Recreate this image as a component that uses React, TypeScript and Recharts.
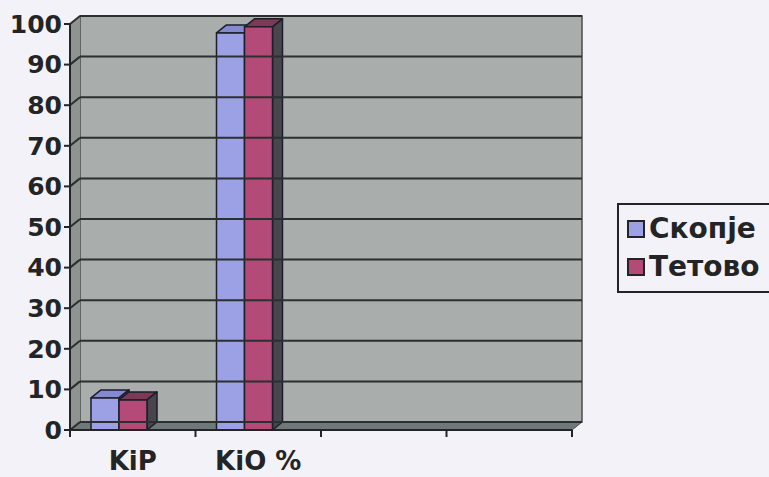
import { BarChart, Bar, XAxis, YAxis, ReferenceArea, ReferenceLine } from 'recharts'

// categories on the x axis (last two are empty slots)
const categories = ['KiP', 'KiO %', '', ' ']
// values per city
const skopje = [7.9, 97.8, null, null]
const tetovo = [7.4, 99.3, null, null]
const yTicks = [0, 10, 20, 30, 40, 50, 60, 70, 80, 90, 100]
const seriesNames = ['Скопје', 'Тетово']

const data = categories.map((cat, i) => ({ cat, skopje: skopje[i], tetovo: tetovo[i] }))

// 3D depth of the fake perspective
const DX = 10
const DY = 8
const SHIFT = -14
const FONT = '"DejaVu Sans", sans-serif'
const INK = '#232425'

const colors = {
  skopje: { front: '#9ca0e4', top: '#8589d0', side: '#55588f' },
  tetovo: { front: '#b34a78', top: '#7d3a57', side: '#46464c' },
}

const makeBar = (c: { front: string; top: string; side: string }) => (props: any) => {
  const { x, y, width: w, height: h } = props
  if (x == null || !h) return <g />
  const bx = x + SHIFT
  return (
    <g stroke="#1d1d2b" strokeWidth={1.5} strokeLinejoin="round">
      <polygon points={`${bx},${y} ${bx + DX},${y - DY} ${bx + w + DX},${y - DY} ${bx + w},${y}`} fill={c.top} />
      <polygon points={`${bx + w},${y} ${bx + w + DX},${y - DY} ${bx + w + DX},${y + h - DY} ${bx + w},${y + h}`} fill={c.side} />
      <rect x={bx} y={y} width={w} height={h} fill={c.front} />
    </g>
  )
}

const Walls = (props: any) => {
  const { x, y, width: w, height: h } = props
  return (
    <g>
      <rect x={x + DX} y={y - DY} width={w} height={h} fill="#a9aeac" stroke="#4a4e4e" strokeWidth={1.5} />
      <polygon points={`${x},${y} ${x + DX},${y - DY} ${x + DX},${y + h - DY} ${x},${y + h}`} fill="#8f9492" />
      <polygon points={`${x},${y + h} ${x + DX},${y + h - DY} ${x + w + DX},${y + h - DY} ${x + w},${y + h}`} fill="#6f7977" stroke="#4a4e4e" strokeWidth={1} />
    </g>
  )
}

const gridLine = (p: any) => (
  <g stroke="#2b2f2f" strokeWidth={2}>
    <line x1={p.x1} y1={p.y1} x2={p.x1 + DX} y2={p.y1 - DY} />
    <line x1={p.x1 + DX} y1={p.y1 - DY} x2={p.x2 + DX} y2={p.y2 - DY} />
  </g>
)

const XTick = (props: any) => {
  const { x, y, payload, index, visibleTicksCount } = props
  const half = payload?.offset ?? 62.75
  const axisY = y - 8
  const last = index === (visibleTicksCount ?? categories.length) - 1
  return (
    <g>
      <line x1={x - half} y1={axisY} x2={x - half} y2={axisY + 7} stroke={INK} strokeWidth={2} />
      {last && <line x1={x + half} y1={axisY} x2={x + half} y2={axisY + 7} stroke={INK} strokeWidth={2} />}
      <text x={x} y={axisY + 40} textAnchor="middle" fontFamily={FONT} fontWeight="bold" fontSize={26} fill={INK}>
        {payload.value}
      </text>
    </g>
  )
}

const LegendBox = () => (
  <div
    style={{
      position: 'absolute',
      left: 617,
      top: 203,
      width: 170,
      border: `2px solid ${INK}`,
      padding: '5px 0 5px 8px',
      fontFamily: FONT,
      fontWeight: 'bold',
      fontSize: 28,
      color: INK,
      lineHeight: '38px',
    }}
  >
    {seriesNames.map((name, i) => (
      <div key={name} style={{ display: 'flex', alignItems: 'center' }}>
        <span
          style={{
            display: 'inline-block',
            width: 14,
            height: 14,
            background: i === 0 ? colors.skopje.front : colors.tetovo.front,
            border: `2px solid ${INK}`,
            marginRight: 4,
          }}
        />
        {name}
      </div>
    ))}
  </div>
)

export default function App() {
  return (
    <div style={{ position: 'absolute', left: 0, top: 0, width: 769, height: 477, overflow: 'hidden', background: '#f3f2f8' }}>
      <BarChart
        width={769}
        height={477}
        data={data}
        margin={{ top: 24, right: 197, bottom: 0, left: 0 }}
        barSize={28}
        barGap={0}
      >
        <ReferenceArea y1={0} y2={100} shape={Walls} fillOpacity={1} />
        {yTicks.map((v) => (
          <ReferenceLine key={v} y={v} shape={gridLine} />
        ))}
        <XAxis
          dataKey="cat"
          height={47}
          tickLine={false}
          axisLine={{ stroke: INK, strokeWidth: 2 }}
          tick={<XTick />}
          interval={0}
        />
        <YAxis
          width={70}
          domain={[0, 100]}
          ticks={yTicks}
          interval={0}
          tickSize={6}
          tickMargin={2}
          axisLine={{ stroke: INK, strokeWidth: 2 }}
          tickLine={{ stroke: INK, strokeWidth: 2 }}
          tick={{ fontFamily: FONT, fontWeight: 'bold', fontSize: 25, fill: INK }}
        />
        <Bar dataKey="skopje" name={seriesNames[0]} fill={colors.skopje.front} shape={makeBar(colors.skopje)} isAnimationActive={false} />
        <Bar dataKey="tetovo" name={seriesNames[1]} fill={colors.tetovo.front} shape={makeBar(colors.tetovo)} isAnimationActive={false} />
      </BarChart>
      <LegendBox />
    </div>
  )
}
